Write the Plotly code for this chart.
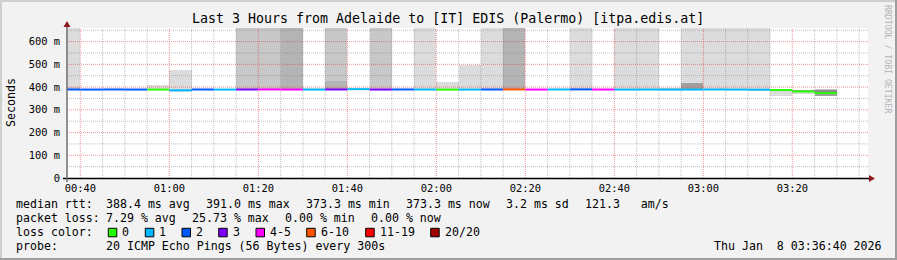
import plotly.graph_objects as go
from datetime import datetime, timedelta

# ---------------- data ----------------
first_step = datetime(2026, 1, 8, 0, 35)      # start of first 5-minute step
step_minutes = 5
view_start = datetime(2026, 1, 8, 0, 37)
view_end = datetime(2026, 1, 8, 3, 37)

median_ms = [389.4, 389.2, 389.6, 389.3, 389.0, 386.0, 389.5, 389.1, 389.4, 389.7,
             389.3, 388.9, 389.5, 391.0, 389.2, 389.6, 389.3, 388.8, 389.1, 389.5,
             389.8, 389.2, 389.6, 389.9, 389.4, 389.1, 389.3, 388.9, 389.2, 389.5,
             389.1, 388.6, 387.0, 380.5, 373.3]

loss_pct = [7.5, 8.0, 7.0, 7.5, 0.0, 4.0, 7.5, 4.0, 12.5, 18.0,
            21.0, 4.0, 12.5, 4.0, 12.5, 7.5, 4.0, 0.0, 4.0, 7.5,
            25.73, 18.0, 4.0, 7.5, 19.0, 4.0, 4.0, 4.0, 4.0, 4.0,
            4.0, 4.0, 0.0, 0.0, 0.0]

# smoke: outer band above median (max ping), inner band above median, band below median
smoke_hi_ms = [1000, None, None, None, 408, 476, None, None, 1000, 1000,
               1000, 397, 1000, None, 1000, None, 1000, 423, 498, 1000,
               1000, None, None, 1000, None, 1000, 1000, 397, 1000, 1000,
               1000, 1000, None, None, 391]
smoke_hi_rank = [1, 0, 0, 0, 1, 1, 0, 0, 2, 2,
                 3, 1, 2, 0, 2, 0, 1, 1, 1, 1,
                 3, 0, 0, 1, 0, 1, 1, 2, 1, 1,
                 1, 1, 0, 0, 2]
smoke_mid_ms = [401, None, None, None, None, None, None, None, None, None,
                None, None, 427, None, None, None, None, None, None, None,
                None, None, None, None, None, None, None, None, 416, None,
                None, None, None, 389, 387]
smoke_mid_rank = [2, 0, 0, 0, 0, 0, 0, 0, 0, 0,
                  0, 0, 3, 0, 0, 0, 0, 0, 0, 0,
                  0, 0, 0, 0, 0, 0, 0, 0, 4, 0,
                  0, 0, 0, 4, 5]
smoke_lo_ms = [None, None, None, None, None, 381, None, None, None, None,
               None, None, None, None, None, None, None, None, None, None,
               None, None, None, None, None, None, None, None, None, None,
               None, 385, 363, 368, 362]
smoke_lo_rank = [0, 0, 0, 0, 0, 1, 0, 0, 0, 0,
                 0, 0, 0, 0, 0, 0, 0, 0, 0, 0,
                 0, 0, 0, 0, 0, 0, 0, 0, 0, 0,
                 0, 1, 1, 1, 4]

loss_labels = ["0", "1", "2", "3", "4-5", "6-10", "11-19", "20/20"]
loss_max_pings = [0, 1, 2, 3, 5, 10, 19, 20]
pings_per_step = 20

y_ticks_ms = [0, 100, 200, 300, 400, 500, 600]
y_tick_labels = ["0", "100 m", "200 m", "300 m", "400 m", "500 m", "600 m"]
x_tick_labels = ["00:40", "01:00", "01:20", "01:40", "02:00", "02:20", "02:40", "03:00", "03:20"]

title_text = "Last 3 Hours from Adelaide to [IT] EDIS (Palermo) [itpa.edis.at]"
rtt_stats = ["388.4 ms avg", "391.0 ms max", "373.3 ms min", "373.3 ms now", "3.2 ms sd", "121.3   am/s"]
loss_stats = ["7.29 % avg", "25.73 % max", "0.00 % min", "0.00 % now"]
probe_text = "20 ICMP Echo Pings (56 Bytes) every 300s"
stamp_text = "Thu Jan  8 03:36:40 2026"

# ---------------- styles ----------------
loss_colors = ["#26ff00", "#00b8ff", "#0059ff", "#7e00ff", "#ff00ff", "#ff5500", "#ff0000", "#a10000"]
smoke_shades = {1: "#dcdcdc", 2: "#c8c8c8", 3: "#b4b4b4", 4: "#a0a0a0", 5: "#8c8c8c"}
MONO = "DejaVu Sans Mono"
Y_MAX = 660
W, H = 897, 260
L, R, T, B = 67, 868, 28, 178
CHAR_W = 7.0
ITEM_GAP = 16


def PX(x):
    return (x - L) / (R - L)


def PY(y):
    return (B - y) / (B - T)


n = len(median_ms)
step = timedelta(minutes=step_minutes)
starts = [first_step + i * step for i in range(n)]
centers = [s + step / 2 for s in starts]
width_ms = step_minutes * 60 * 1000

fig = go.Figure()


def add_band(lo_list, hi_list, ranks):
    xs, base, h, cols = [], [], [], []
    for i in range(n):
        lo, hi = lo_list[i], hi_list[i]
        if lo is None or hi is None or ranks[i] == 0:
            continue
        xs.append(centers[i])
        base.append(lo)
        h.append(hi - lo)
        cols.append(smoke_shades[ranks[i]])
    fig.add_trace(go.Bar(x=xs, y=h, base=base, width=[width_ms] * len(xs),
                         marker=dict(color=cols, line=dict(width=0)),
                         hoverinfo="skip", showlegend=False))


# outer band above: from inner top (or median) to max
outer_lo = [smoke_mid_ms[i] if smoke_mid_ms[i] is not None else median_ms[i] for i in range(n)]
add_band(outer_lo, smoke_hi_ms, smoke_hi_rank)
add_band(median_ms, smoke_mid_ms, smoke_mid_rank)
add_band(smoke_lo_ms, median_ms, smoke_lo_rank)

# grid drawn over the smoke
grid_minor = "rgba(128,128,128,0.5)"
grid_major = "rgba(222,48,48,0.5)"
vx_min, vy_min, vx_maj, vy_maj = [], [], [], []
t = datetime(2026, 1, 8, 0, 40)
while t < view_end:
    is_major = (t.minute % 20 == 0)
    (vx_maj if is_major else vx_min).extend([t, t, None])
    (vy_maj if is_major else vy_min).extend([0, Y_MAX, None])
    t += step
hx_min, hy_min, hx_maj, hy_maj = [], [], [], []
for v in range(50, Y_MAX, 50):
    if v % 100 == 0:
        hx_maj.extend([view_start, view_end, None]); hy_maj.extend([v, v, None])
    else:
        hx_min.extend([view_start, view_end, None]); hy_min.extend([v, v, None])
for xs, ys, c in [(vx_min, vy_min, grid_minor), (hx_min, hy_min, grid_minor),
                  (vx_maj, vy_maj, grid_major), (hx_maj, hy_maj, grid_major)]:
    fig.add_trace(go.Scatter(x=xs, y=ys, mode="lines",
                             line=dict(color=c, width=1, dash="1px,1px"),
                             hoverinfo="skip", showlegend=False))


# median line coloured by loss
def loss_index(p):
    lost = p / 100 * pings_per_step
    for j, mx in enumerate(loss_max_pings):
        if lost <= mx + 1e-9:
            return j
    return len(loss_max_pings) - 1


for j, col in enumerate(loss_colors):
    xs, ys = [], []
    for i in range(n):
        if loss_index(loss_pct[i]) == j:
            xs.extend([starts[i], starts[i] + step, None])
            ys.extend([median_ms[i], median_ms[i], None])
    if xs:
        fig.add_trace(go.Scatter(x=xs, y=ys, mode="lines", line=dict(color=col, width=2),
                                 hoverinfo="skip", showlegend=False))

tick_times = [datetime(2026, 1, 8, 0, 40) + timedelta(minutes=20 * k) for k in range(len(x_tick_labels))]

shapes = []
# frame
shapes.append(dict(type="rect", xref="paper", yref="paper", x0=PX(0), x1=PX(W), y0=PY(0), y1=PY(2),
                   fillcolor="#cfcfcf", line=dict(width=0), layer="above"))
shapes.append(dict(type="rect", xref="paper", yref="paper", x0=PX(0), x1=PX(2), y0=PY(0), y1=PY(H),
                   fillcolor="#cfcfcf", line=dict(width=0), layer="above"))
shapes.append(dict(type="rect", xref="paper", yref="paper", x0=PX(0), x1=PX(W), y0=PY(H - 2), y1=PY(H),
                   fillcolor="#9e9e9e", line=dict(width=0), layer="above"))
shapes.append(dict(type="rect", xref="paper", yref="paper", x0=PX(W - 2), x1=PX(W), y0=PY(0), y1=PY(H),
                   fillcolor="#9e9e9e", line=dict(width=0), layer="above"))
# axes
shapes.append(dict(type="line", xref="paper", yref="paper", x0=PX(63), x1=PX(870), y0=PY(178.5), y1=PY(178.5),
                   line=dict(color="#000000", width=1.5), layer="above"))
shapes.append(dict(type="line", xref="paper", yref="paper", x0=PX(67), x1=PX(67), y0=PY(182), y1=PY(25),
                   line=dict(color="#6e6e6e", width=1.5), layer="above"))
shapes.append(dict(type="path", xref="paper", yref="paper",
                   path=f"M {PX(63.5)} {PY(27)} L {PX(70.5)} {PY(27)} L {PX(67)} {PY(21)} Z",
                   fillcolor="#8b1a1a", line=dict(width=0), layer="above"))
shapes.append(dict(type="path", xref="paper", yref="paper",
                   path=f"M {PX(869)} {PY(175)} L {PX(869)} {PY(182)} L {PX(875)} {PY(178.5)} Z",
                   fillcolor="#8b1a1a", line=dict(width=0), layer="above"))

annotations = []


def text(x, y, s, size=11.6, anchor="left", color="#000000", angle=0):
    annotations.append(dict(x=PX(x), y=PY(y), xref="paper", yref="paper", text=s.replace(" ", "\u00a0"),
                            showarrow=False, xanchor=anchor, yanchor="middle", borderpad=0, borderwidth=0,
                            textangle=angle, font=dict(family=MONO, size=size, color=color)))


def legend_row(y, label, items, x0=106.3):
    text(15.5, y, label)
    x = x0
    for s in items:
        text(x, y, s)
        x += len(s) * CHAR_W + ITEM_GAP


text(447.5, 18.5, title_text, size=13.3, anchor="center")
text(11, 103, "Seconds", anchor="center", angle=-90)
text(888, 59, "RRDTOOL / TOBI OETIKER", size=8.2, anchor="center", color="#b4b4b4", angle=90)

legend_row(204.3, "median rtt:", rtt_stats)
legend_row(218.3, "packet loss:", loss_stats)
text(15.5, 232.3, "loss color:")
sw_x = [108.3, 145.3, 182, 218.7, 256, 306.7, 365.7, 430.7]
for lab, col, x in zip(loss_labels, loss_colors, sw_x):
    shapes.append(dict(type="rect", xref="paper", yref="paper", x0=PX(x), x1=PX(x + 8.5),
                       y0=PY(228.3), y1=PY(236.8), fillcolor=col, line=dict(color="#000000", width=1),
                       layer="above"))
    text(x + 14, 232.3, lab)
text(15.5, 246.3, "probe:")
text(106.3, 246.3, probe_text)
text(881.5, 246.3, stamp_text, anchor="right")

fig.update_layout(
    width=W, height=H, autosize=False,
    margin=dict(l=L, r=W - R, t=T, b=H - B, pad=0),
    paper_bgcolor="#f2f2f2", plot_bgcolor="#ffffff",
    barmode="overlay", bargap=0, showlegend=False,
    font=dict(family=MONO, color="#000000"),
    xaxis=dict(type="date", range=[view_start, view_end], showgrid=False, zeroline=False, showline=False,
               tickvals=tick_times, ticktext=x_tick_labels, ticks="", ticklabelstandoff=3,
               tickfont=dict(family=MONO, size=10.4, color="#000000"), fixedrange=True),
    yaxis=dict(range=[0, Y_MAX], showgrid=False, zeroline=False, showline=False,
               tickvals=y_ticks_ms, ticktext=y_tick_labels, ticks="", ticklabelstandoff=6,
               tickfont=dict(family=MONO, size=10.4, color="#000000"), fixedrange=True),
    shapes=shapes, annotations=annotations,
)

fig.write_html("out.html")
